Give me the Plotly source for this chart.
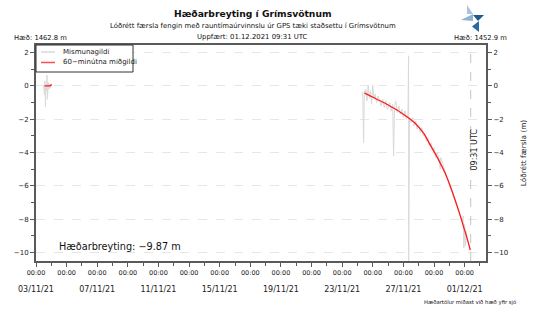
import plotly.graph_objects as go
from datetime import datetime, timedelta

# ---------------- data ----------------
base = datetime(2021, 11, 3)
# raw values (Mismunagildi): days after 03/11/21 00:00, vertical change (m)
raw_days = [0.50, 0.55, 0.58, 0.62, 0.65, 0.70, 0.72, 0.75, 0.80, 0.85, 0.90, 0.95, 1.00, None,
            21.30, 21.35, 21.40, 21.45, 21.50, 21.55, 21.62, 21.70, 21.78, 21.85, 21.92, 22.00,
            22.08, 22.15, 22.25, 22.35, 22.45, 22.55, 22.65, 22.75, 22.85, 22.95, 23.05, 23.10,
            23.20, 23.30, 23.36, 23.42, 23.50, 23.60, 23.70, 23.80, 23.90, 24.00, 24.10, 24.20,
            24.30, 24.34, 24.345, 24.40, 24.50, 24.60, 24.70, 24.80, 24.90, 25.00, 25.10, 25.20,
            25.30, 25.40, 25.50, 25.60, 25.70, 25.80, 25.90, 26.00, 26.10, 26.20, 26.30, 26.41,
            26.45, 26.55, 26.65, 26.75, 26.85, 26.95, 27.05, 27.15, 27.25, 27.35, 27.45, 27.55,
            27.65, 27.75, 27.85, 27.90, 27.95, 28.00, 28.05, 28.10, 28.15, 28.25, 28.35]
raw_vals = [0.0, -0.5, 0.3, -1.25, 0.1, -0.3, 0.65, -0.8, 0.2, -0.2, 0.1, -0.1, 0.05, None,
            -0.35, -0.6, -3.4, -0.3, -0.5, -0.2, -0.9, 0.0, -0.7, -0.3, -1.1, 0.05,
            -0.8, -0.5, -1.0, -0.6, -0.9, -1.2, -0.8, -1.3, -0.9, -1.4, -1.2, -1.0,
            -1.5, -1.1, -4.2, -1.3, -0.9, -1.6, -1.2, -1.7, -1.4, -1.9, -1.5, -2.0,
            -1.7, 1.8, -10.5, -1.9, -2.2, -1.9, -2.4, -2.1, -2.6, -2.4, -2.8, -2.5,
            -3.0, -2.9, -3.3, -3.1, -3.6, -3.4, -3.9, -3.7, -4.3, -4.0, -4.2, -5.0,
            -4.3, -4.6, -4.9, -5.3, -5.6, -5.8, -6.1, -6.3, -6.6, -6.8, -7.1, -7.3,
            -7.6, -7.9, -8.1, -7.8, -9.7, -8.3, -9.6, -8.7, -9.2, -9.4, -9.8]
# 60-minute median (60−minútna miðgildi)
med_days = [0.56, 0.70, 0.85, 0.97, 1.00, None,
            21.46, 21.80, 22.20, 22.81, 23.30, 23.80, 24.30, 24.77, 25.32, 25.75, 26.25,
            26.73, 27.00, 27.38, 27.65, 27.93, 28.15, 28.37]
med_vals = [0.0, 0.0, 0.0, 0.02, 0.1, None,
            -0.44, -0.58, -0.77, -1.04, -1.30, -1.58, -1.90, -2.24, -2.84, -3.54, -4.35,
            -5.24, -5.85, -6.84, -7.60, -8.44, -9.10, -9.84]
tick_days = list(range(0, 30, 2))
tick_dates = ["03/11/21", "", "07/11/21", "", "11/11/21", "", "15/11/21", "",
              "19/11/21", "", "23/11/21", "", "27/11/21", "", "01/12/21"]
update_time = datetime(2021, 12, 1, 9, 31)
total_change = -9.87

# ---------------- figure ----------------
def to_dt(days):
    return [None if d is None else base + timedelta(days=d) for d in days]

L, R, T, B = 36, 54, 45, 54
W, H = 540, 315
PW, PH = W - L - R, H - T - B
def px(x):
    return (x - L) / PW
def py(y):
    return (H - B - y) / PH

FONT = "DejaVu Sans"
fig = go.Figure()
fig.add_trace(go.Scatter(x=to_dt(raw_days), y=raw_vals, mode="lines", name="Mismunagildi",
                         line=dict(color="#d9d9d9", width=1), connectgaps=False))
fig.add_trace(go.Scatter(x=to_dt(med_days), y=med_vals, mode="lines", name="60−minútna miðgildi",
                         line=dict(color="#ff1a1a", width=1.3, shape="spline", smoothing=0.8),
                         connectgaps=False))
fig.add_trace(go.Scatter(x=[base], y=[0], yaxis="y2", mode="markers", showlegend=False,
                         marker=dict(opacity=0), hoverinfo="skip"))

ticktext = ["00:00<br>&nbsp;<br><span style='font-size:8px'>%s</span>" % (d if d else "&nbsp;")
            for d in tick_dates]
xr = [base, update_time + timedelta(days=1)]
yr = [-10.5, 2.45]
axcol = "#5a5a5a"

fig.update_layout(
    width=W, height=H, margin=dict(l=L, r=R, t=T, b=B),
    paper_bgcolor="white", plot_bgcolor="white",
    font=dict(family=FONT, size=7, color="#222"),
    showlegend=False,
    xaxis=dict(range=xr, tickvals=to_dt(tick_days), ticktext=ticktext,
               tickfont=dict(size=6.5), ticks="outside", ticklen=4, tickcolor=axcol,
               showgrid=False, zeroline=False, showline=True, linecolor=axcol,
               linewidth=2, mirror=True,
               minor=dict(tickvals=to_dt(list(range(1, 30, 2))), ticks="outside",
                          ticklen=3, tickcolor=axcol, showgrid=False)),
    yaxis=dict(range=yr, tickvals=[2, 0, -2, -4, -6, -8, -10], ticks="outside",
               ticklen=4, tickcolor=axcol, tickfont=dict(size=7),
               showgrid=True, gridcolor="#e6e6e6", griddash="dash", gridwidth=1,
               zeroline=False, showline=True, linecolor=axcol, linewidth=2,
               minor=dict(tickvals=[1, -1, -3, -5, -7, -9], ticks="outside",
                          ticklen=3, tickcolor=axcol, showgrid=False)),
    yaxis2=dict(range=yr, overlaying="y", side="right", anchor="x",
                tickvals=[2, 0, -2, -4, -6, -8, -10], ticks="outside", ticklen=4,
                tickcolor=axcol, tickfont=dict(size=7), showgrid=False, zeroline=False,
                showline=True, linecolor=axcol, linewidth=2,
                title=dict(text="Lóðrétt færsla (m)", font=dict(size=7.3), standoff=14),
                minor=dict(tickvals=[1, -1, -3, -5, -7, -9], ticks="outside",
                           ticklen=3, tickcolor=axcol)),
)

# vertical dashed line at update time
fig.add_shape(type="line", xref="x", yref="paper", x0=update_time, x1=update_time,
              y0=0, y1=1, line=dict(color="#c4c4c4", width=1, dash="dash"))

# legend box drawn by hand (compact, like the reference)
fig.add_shape(type="rect", xref="paper", yref="paper", x0=px(36), x1=px(133), y0=py(72), y1=py(45),
              fillcolor="white", line=dict(color="#333", width=1), layer="above")
for yy, col, lab in [(52, "#d9d9d9", "Mismunagildi"), (62.5, "#ff4d4d", "60−minútna miðgildi")]:
    fig.add_shape(type="line", xref="paper", yref="paper", x0=px(41), x1=px(55), y0=py(yy), y1=py(yy),
                  line=dict(color=col, width=1.5), layer="above")
    fig.add_annotation(text=lab, x=px(61), y=py(yy), xref="paper", yref="paper", showarrow=False,
                       xanchor="left", yanchor="middle", font=dict(size=7, family=FONT, color="#222"))

ann = [
    dict(text="<b>Hæðarbreyting í Grímsvötnum</b>", x=px(253), y=py(14), size=9.2),
    dict(text="Lóðrétt færsla fengin með rauntímaúrvinnslu úr GPS tæki staðsettu í Grímsvötnum",
         x=px(253), y=py(26), size=6.9),
    dict(text="Uppfært: " + update_time.strftime("%d.%m.%Y %H:%M") + " UTC", x=px(252), y=py(36.5), size=6.9),
    dict(text="Hæð: 1462.8 m", x=px(40), y=py(38), size=6.8),
    dict(text="Hæð: 1452.9 m", x=px(480), y=py(38), size=6.8),
    dict(text="Hæðarbreyting: %s m" % ("%.2f" % total_change).replace("-", "−"),
         x=px(120), y=py(246), size=9.7),
    dict(text="Hæðartölur miðast við hæð yfir sjó", x=px(470), y=py(302), size=5.3),
]
for a in ann:
    fig.add_annotation(text=a["text"], x=a["x"], y=a["y"], xref="paper", yref="paper",
                       showarrow=False, xanchor="center", yanchor="middle",
                       font=dict(size=a["size"], family=FONT, color="#111"))
fig.add_annotation(text=update_time.strftime("%H:%M") + " UTC", x=px(480), y=py(150),
                   xref="paper", yref="paper", showarrow=False, textangle=-90,
                   font=dict(size=8, family=FONT, color="#222"))

# logo (decorative triangles)
def tri(pts, col):
    path = "M " + " L ".join("%f,%f" % (px(a), py(b)) for a, b in pts) + " Z"
    fig.add_shape(type="path", xref="paper", yref="paper", path=path,
                  fillcolor=col, line=dict(width=0))
tri([(467, 5), (473, 14), (467, 14)], "#a9c4dc")
tri([(461, 20), (473, 14), (473, 21)], "#8fb3d3")
tri([(473, 15), (484, 15), (478, 21)], "#1f5a8c")
tri([(479, 21), (479, 32), (472, 26.5)], "#2b6aa0")

fig.write_html("out.html")
